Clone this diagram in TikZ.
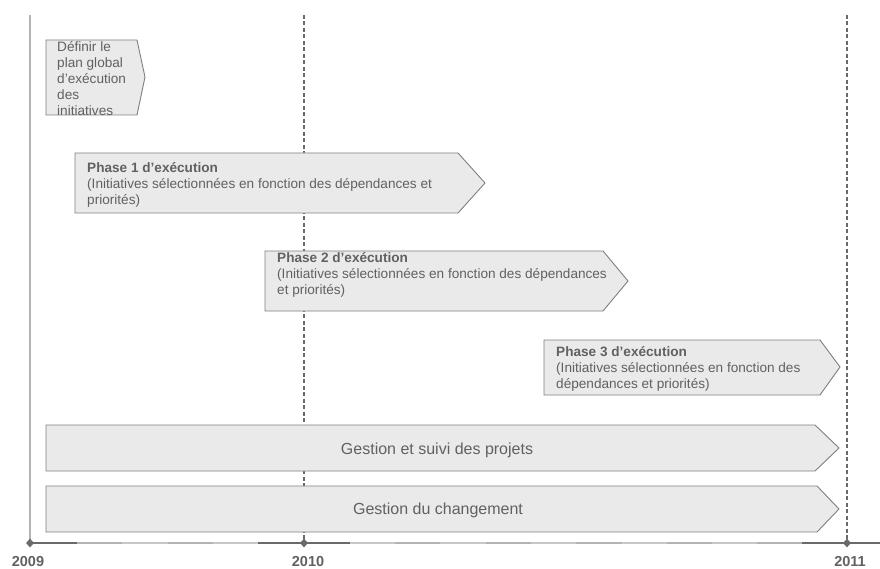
\documentclass[tikz,border=0pt]{standalone}
\usepackage{fontspec}
\setmainfont{Liberation Sans}
\usetikzlibrary{shapes.geometric}
\definecolor{boxfill}{HTML}{EAEAEA}
\definecolor{boxline}{HTML}{7F7F7F}
\definecolor{txt}{HTML}{616161}
\definecolor{axdark}{HTML}{6A6A6A}
\definecolor{axlightA}{HTML}{B4B4B4}
\definecolor{axlightB}{HTML}{C8C8C8}
\tikzset{
  chev/.style={draw=boxline, fill=boxfill, line width=0.9pt, line join=miter},
  boxtext/.style={text=txt, inner sep=0pt, align=left, anchor=north west,
    font=\fontsize{13.6}{16}\selectfont},
  bigtext/.style={text=txt, inner sep=0pt, font=\fontsize{16}{19}\selectfont},
  yeartext/.style={text=txt, inner sep=0pt, font=\fontsize{14.5}{17}\selectfont\bfseries},
  solidyear/.style={draw=axlightA, line width=1.3pt},
  dashyear/.style={draw=axdark, line width=1.1pt, dash pattern=on 4pt off 2.5pt},
  mile/.style={diamond, fill=axdark, inner sep=0pt, minimum width=8pt, minimum height=9pt},
}
\begin{document}
\begin{tikzpicture}[x=1pt,y=-1pt]
\useasboundingbox (0,0) rectangle (880,569);
% vertical year lines
\coordinate (v9t) at (30,15);   \coordinate (v9b) at (30,543);
\coordinate (v10t) at (304,15); \coordinate (v10b) at (304,543);
\coordinate (v11t) at (847,15); \coordinate (v11b) at (847,543);
\draw[solidyear] (v9t) -- (v9b);
\draw[dashyear] (v10t) -- (v10b);
\draw[dashyear] (v11t) -- (v11b);
% axis
\draw[axlightA, line width=2pt] (30,543) -- (880,543);
\foreach \a/\b/\c in {77/122/axlightA,122/168/axlightB,168/213/axlightA,213/258/axlightB,
  350/395/axlightB,395/440/axlightA,440/486/axlightB,486/531/axlightA,531/576/axlightB,
  576/622/axlightA,622/667/axlightB,667/712/axlightA,712/757/axlightB,757/802/axlightA}
  \draw[\c, line width=2pt] (\a,543) -- (\b,543);
\draw[axdark, line width=2pt] (30,543) -- (77,543);
\draw[axdark, line width=2pt] (258,543) -- (350,543);
\draw[axdark, line width=2pt] (802,543) -- (880,543);
\node[mile] (m9) at (30,543) {};
\node[mile] (m10) at (304,543) {};
\node[mile] (m11) at (847,543) {};
% year labels
\node[yeartext] (y9) at (28,561.5) {2009};
\node[yeartext] (y10) at (308,561.5) {2010};
\node[yeartext] (y11) at (850,561.5) {2011};
% boxes
\draw[chev] (46,40) -- (137,40) -- (145,77) -- (137,115) -- (46,115) -- cycle;
\node[boxtext] (def) at (57,39.8) {\strut D\'efinir le\\plan global\\d'ex\'ecution\\des\\initiatives};
\draw[chev] (75,153) -- (458,153) -- (485,183) -- (458,213) -- (75,213) -- cycle;
\node[boxtext] (p1) at (87,160.8) {\strut\textbf{Phase 1 d’exécution}\\(Initiatives sélectionnées en fonction des dépendances et\\priorités)};
\draw[chev] (265,251) -- (603,251) -- (628,281) -- (603,311) -- (265,311) -- cycle;
\node[boxtext] (p2) at (277,250.8) {\strut\textbf{Phase 2 d’exécution}\\(Initiatives sélectionnées en fonction des dépendances\\et priorités)};
\draw[chev] (544,340) -- (820,340) -- (840,367) -- (820,395) -- (544,395) -- cycle;
\node[boxtext] (p3) at (556,344.8) {\strut\textbf{Phase 3 d’exécution}\\(Initiatives sélectionnées en fonction des\\dépendances et priorités)};
\draw[chev] (46,425) -- (815,425) -- (839,448) -- (815,471) -- (46,471) -- cycle;
\node[bigtext] (g1) at (437,450) {Gestion et suivi des projets};
\draw[chev] (46,486) -- (817,486) -- (839,509) -- (817,532) -- (46,532) -- cycle;
\node[bigtext] (g2) at (438,510) {Gestion du changement};
\end{tikzpicture}
\end{document}
